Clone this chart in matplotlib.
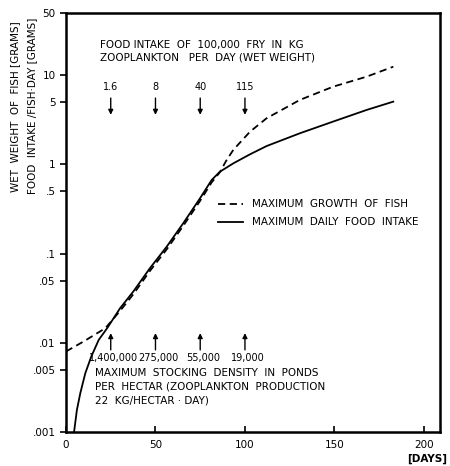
import numpy as np
import matplotlib
matplotlib.use("Agg")
import matplotlib.pyplot as plt

# maximum growth of fish (dashed)
growth_days = [0, 10, 22, 30.2, 37.6, 46.9, 56.3, 65.5, 74.9, 81.4, 86, 89.5,
               93.5, 102.8, 112.1, 130.7, 149.3, 168, 182.9]
growth_vals = [0.008, 0.0104, 0.0146, 0.0228, 0.035, 0.064, 0.112, 0.205, 0.39, 0.63, 0.82, 1.1,
               1.46, 2.33, 3.3, 5.3, 7.46, 9.66, 12.5]

# maximum daily food intake (solid)
intake_days = [4.5, 6.1, 8.0, 10.8, 14.1, 18.3, 23.0, 30.2, 37.6, 46.9, 56.3, 65.5, 74.9, 81.4,
               86, 93.5, 102.8, 112.1, 130.7, 149.3, 168, 182.9]
intake_vals = [0.001, 0.00177, 0.00273, 0.00457, 0.0070, 0.0108, 0.0146, 0.0244, 0.0376, 0.0687,
               0.12, 0.219, 0.418, 0.67, 0.83, 1.03, 1.30, 1.61, 2.24, 3.03, 4.09, 5.07]

arrow_days = [25, 50, 75, 100]
food_labels = ["1.6", "8", "40", "115"]
density_labels = ["1,400,000", "275,000", "55,000", "19,000"]

yticks = [0.001, 0.005, 0.01, 0.05, 0.1, 0.5, 1, 5, 10, 50]
ytick_labels = [".001", ".005", ".01", ".05", ".1", ".5", "1", "5", "10", "50"]
xticks = [0, 50, 100, 150, 200]

fs = 7.5
fig = plt.figure(figsize=(4.5, 4.66), dpi=100)
ax = fig.add_axes([66/450, 34/466, 374/450, 419/466])

ax.plot(growth_days, growth_vals, color="black", lw=1.3, linestyle=(0, (4, 2.5)),
        label="MAXIMUM  GROWTH  OF  FISH")
ax.plot(intake_days, intake_vals, color="black", lw=1.3,
        label="MAXIMUM  DAILY  FOOD  INTAKE")

ax.set_yscale("log")
ax.set_ylim(0.001, 50)
ax.set_xlim(0, 209)
ax.set_yticks(yticks)
ax.set_yticklabels(ytick_labels)
ax.minorticks_off()
ax.set_xticks(xticks)
ax.tick_params(axis="y", direction="out", length=4, width=1.2, labelsize=fs)
ax.tick_params(axis="x", direction="in", length=4, width=1.2, labelsize=fs, pad=6)
for s in ax.spines.values():
    s.set_linewidth(1.8)

tr = ax.get_xaxis_transform()
for d, lab in zip(arrow_days, food_labels):
    ax.annotate("", xy=(d, 0.757), xytext=(d, 0.797), xycoords=tr, textcoords=tr,
                arrowprops=dict(arrowstyle="-|>", color="black", lw=1.0,
                                mutation_scale=7, shrinkA=0, shrinkB=0))
    ax.text(d, 0.823, lab, transform=tr, ha="center", va="center", fontsize=fs - 0.5)

for d, lab in zip(arrow_days, density_labels):
    ax.annotate("", xy=(d, 0.236), xytext=(d, 0.196), xycoords=tr, textcoords=tr,
                arrowprops=dict(arrowstyle="-|>", color="black", lw=1.0,
                                mutation_scale=7, shrinkA=0, shrinkB=0))
    ax.text(d + 1.5, 0.177, lab, transform=tr, ha="center", va="center", fontsize=fs - 0.5)

ax.text(16, 0.152, "MAXIMUM  STOCKING  DENSITY  IN  PONDS\nPER  HECTAR (ZOOPLANKTON  PRODUCTION\n22  KG/HECTAR · DAY)",
        transform=tr, ha="left", va="top", fontsize=fs, linespacing=1.45)
ax.text(19, 0.936, "FOOD INTAKE  OF  100,000  FRY  IN  KG\nZOOPLANKTON   PER  DAY (WET WEIGHT)",
        transform=tr, ha="left", va="top", fontsize=fs, linespacing=1.3)

ax.legend(loc="upper left", bbox_to_anchor=(0.395, 0.565), frameon=False, fontsize=fs,
          handlelength=2.4, handletextpad=0.9, labelspacing=0.75, borderaxespad=0)

fig.text(447/450, 2/466, "[DAYS]", ha="right", va="bottom", fontsize=fs, fontweight="bold")
fig.text(15/450, 1 - 107/466, "WET  WEIGHT  OF  FISH [GRAMS]", rotation=90,
         ha="center", va="center", fontsize=fs)
fig.text(32/450, 1 - 106/466, "FOOD  INTAKE /FISH·DAY [GRAMS]", rotation=90,
         ha="center", va="center", fontsize=fs)

fig.savefig("out.png", dpi=100)
